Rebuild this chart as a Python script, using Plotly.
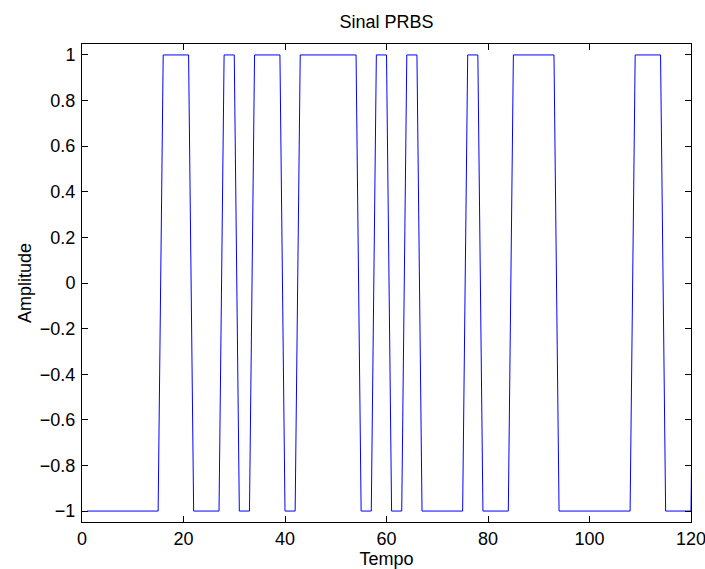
import plotly.graph_objects as go

# Sample times (MATLAB-style index 1..121) and PRBS amplitude values
tempo = list(range(1, 122))
amplitude = [
    -1, -1, -1, -1, -1, -1, -1, -1, -1, -1,   # 1-10
    -1, -1, -1, -1, -1,  1,  1,  1,  1,  1,   # 11-20
     1, -1, -1, -1, -1, -1, -1,  1,  1,  1,   # 21-30
    -1, -1, -1,  1,  1,  1,  1,  1,  1, -1,   # 31-40
    -1, -1,  1,  1,  1,  1,  1,  1,  1,  1,   # 41-50
     1,  1,  1,  1, -1, -1, -1,  1,  1,  1,   # 51-60
    -1, -1, -1,  1,  1,  1, -1, -1, -1, -1,   # 61-70
    -1, -1, -1, -1, -1,  1,  1,  1, -1, -1,   # 71-80
    -1, -1, -1, -1,  1,  1,  1,  1,  1,  1,   # 81-90
     1,  1,  1, -1, -1, -1, -1, -1, -1, -1,   # 91-100
    -1, -1, -1, -1, -1, -1, -1, -1,  1,  1,   # 101-110
     1,  1,  1,  1, -1, -1, -1, -1, -1, -1,   # 111-120
     1,                                       # 121
]

x_ticks = [0, 20, 40, 60, 80, 100, 120]
x_tick_labels = ["0", "20", "40", "60", "80", "100", "120"]
y_ticks = [-1, -0.8, -0.6, -0.4, -0.2, 0, 0.2, 0.4, 0.6, 0.8, 1]
y_tick_labels = ["\u22121", "\u22120.8", "\u22120.6", "\u22120.4", "\u22120.2",
                 "0", "0.2", "0.4", "0.6", "0.8", "1"]

FONT = "Liberation Sans, Arial, Helvetica, sans-serif"

fig = go.Figure()
fig.add_trace(go.Scatter(
    x=tempo, y=amplitude, mode="lines",
    line=dict(color="#0000ff", width=1),
    showlegend=False, hoverinfo="x+y",
))

axis_common = dict(
    showline=True, linecolor="black", linewidth=1, mirror="ticks",
    ticks="inside", ticklen=6, tickwidth=1, tickcolor="black",
    showgrid=False, zeroline=False, automargin=False,
    ticklabeloverflow="allow",
    tickfont=dict(family=FONT, size=18, color="black"),
)

fig.update_layout(
    width=705, height=569,
    margin=dict(l=82, r=14, t=44, b=47, autoexpand=False),
    paper_bgcolor="white", plot_bgcolor="white",
    font=dict(family=FONT, size=18, color="black"),
    title=dict(text="Sinal PRBS", x=0.5, xanchor="center", xref="paper",
               y=1 - 21.7 / 569, yanchor="middle", automargin=False,
               font=dict(family=FONT, size=18, color="black")),
    xaxis=dict(range=[0, 120], tickvals=x_ticks, ticktext=x_tick_labels,
               ticklabelstandoff=0,
               title=dict(text="Tempo", standoff=9,
                          font=dict(family=FONT, size=18, color="black")),
               **axis_common),
    yaxis=dict(range=[-1.048, 1.048], tickvals=y_ticks, ticktext=y_tick_labels,
               ticklabelstandoff=2,
               title=dict(text="Amplitude", standoff=3,
                          font=dict(family=FONT, size=18, color="black")),
               **axis_common),
)

fig.write_html(
    "out.html",
    config={"displayModeBar": False},
    post_script="document.body.style.margin='0';document.body.style.overflow='hidden';",
)
